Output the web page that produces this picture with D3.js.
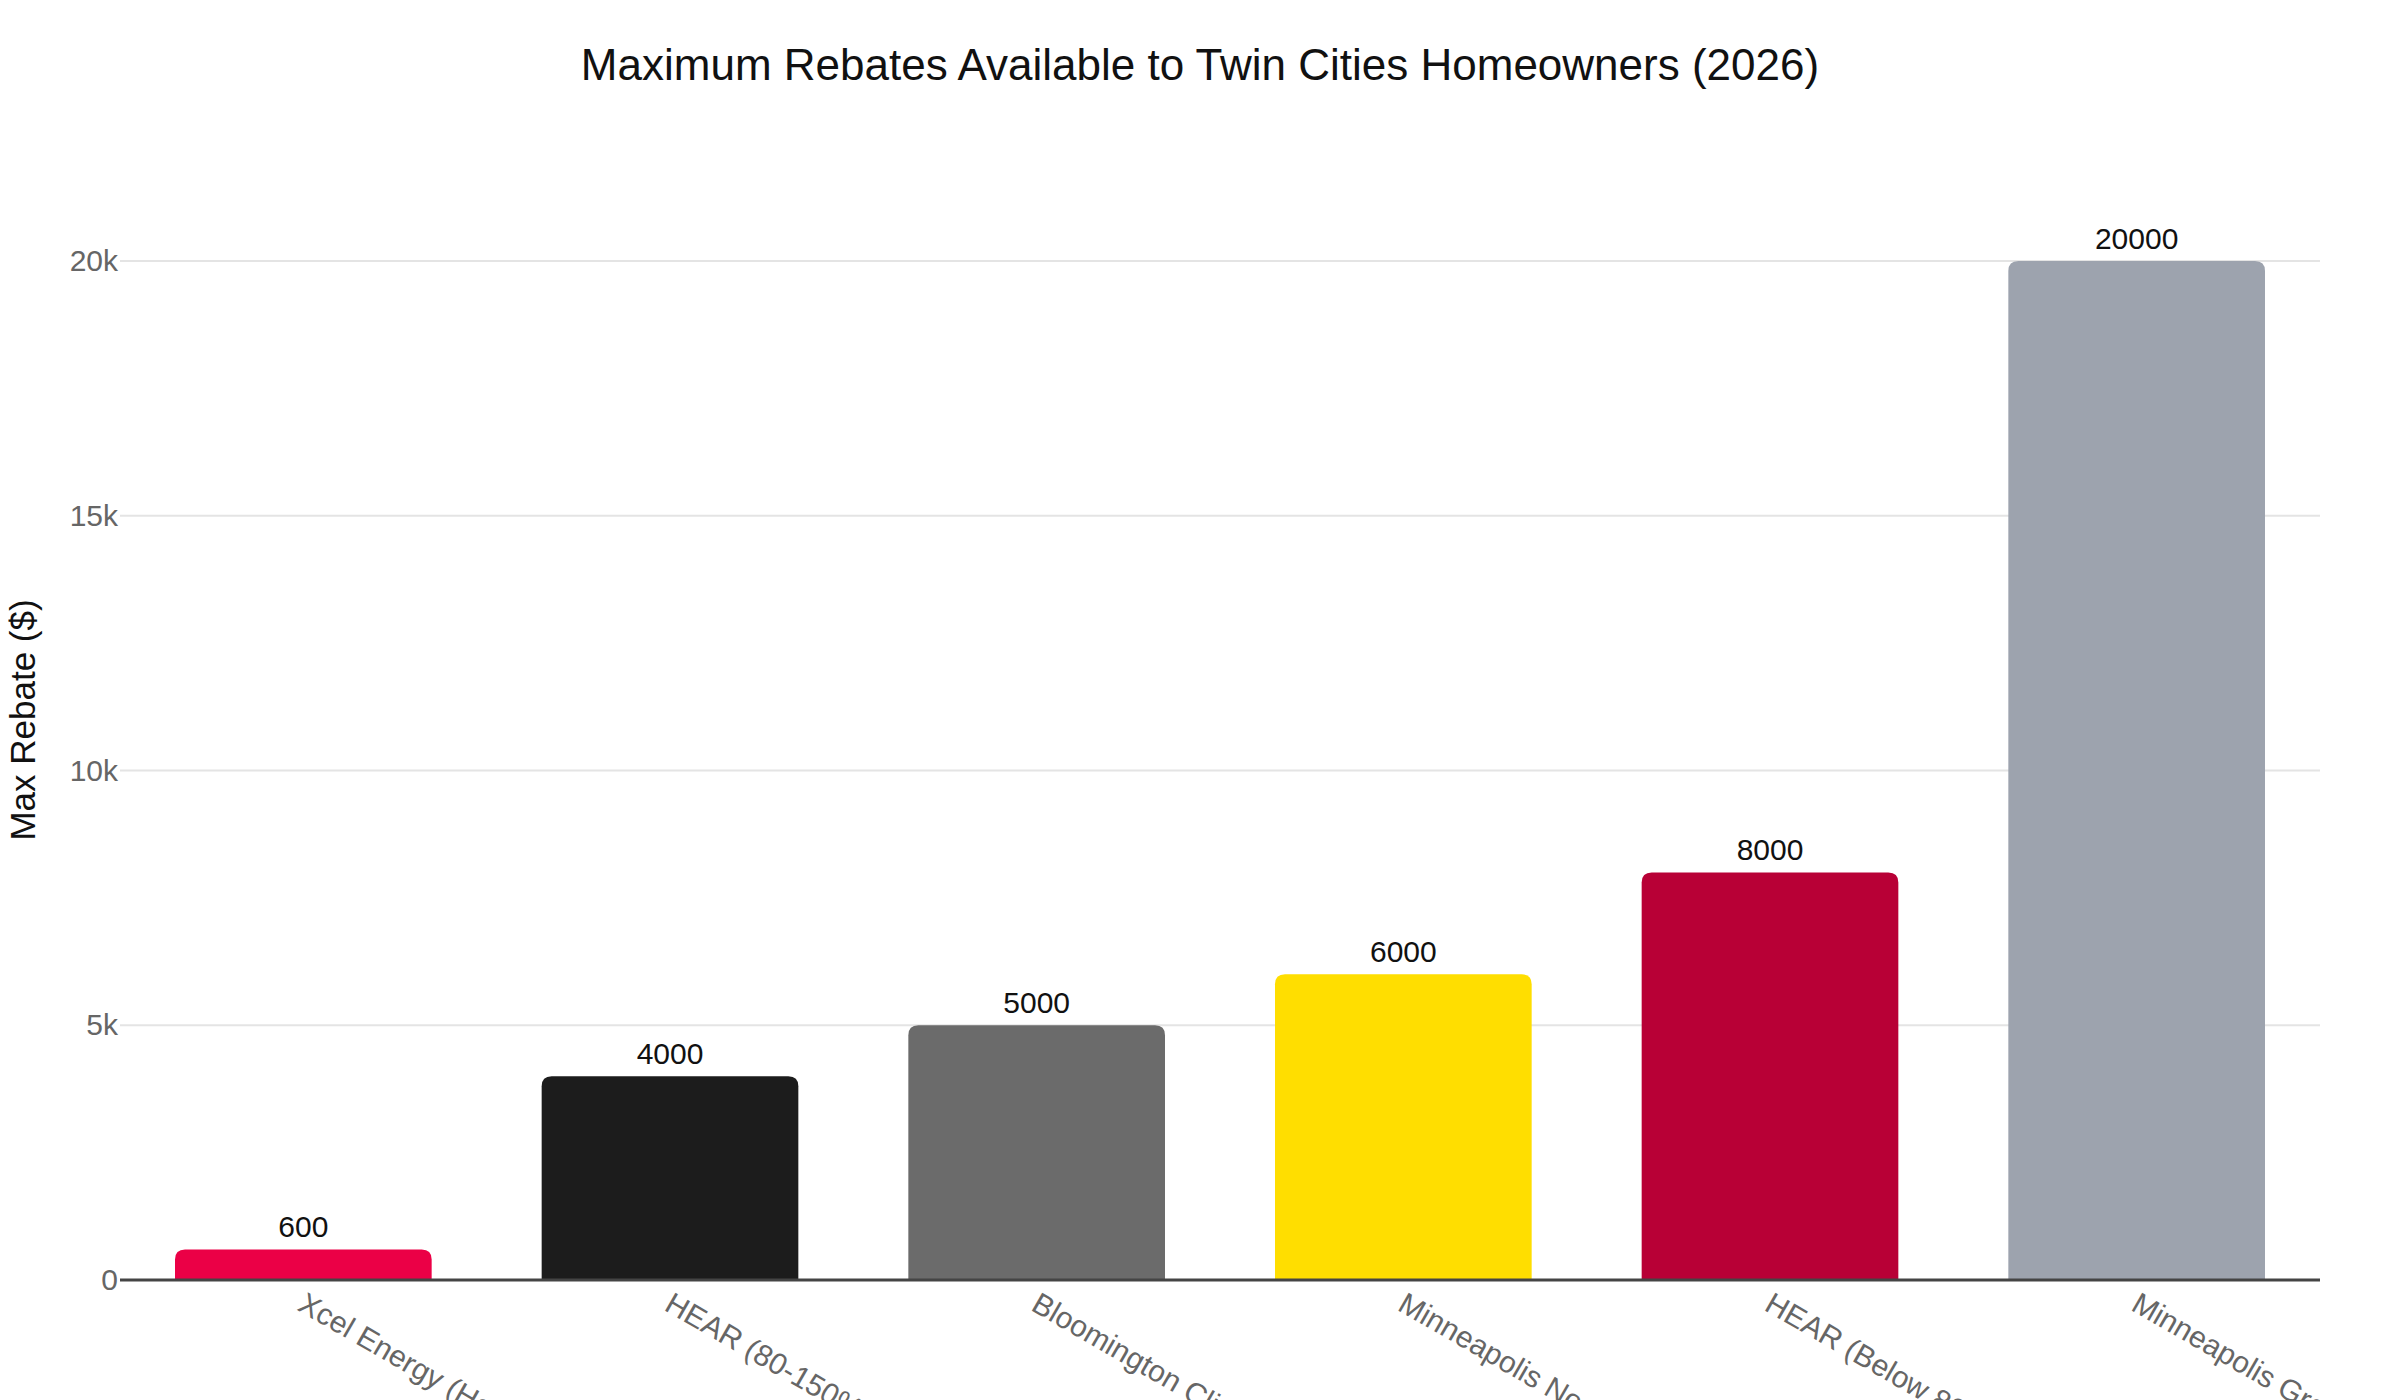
<!DOCTYPE html>
<html>
<head>
<meta charset="utf-8">
<script src="https://cdn.jsdelivr.net/npm/d3@7"></script>
<style>
    body { margin: 0; background: #fff; }
    text { font-family: "Liberation Sans", Arial, Helvetica, sans-serif; }
    .grid line { stroke: #e4e4e4; stroke-width: 2px; }
    .tickLabel { fill: #666; font-size: 30px; }
    .barLabel { fill: #111; font-size: 30px; }
</style>
</head>
<body>
<svg id="chart-svg"></svg>
<script>
// programs and their max rebate
const programs = [
    'Xcel Energy (Home Energy Squad)',
    'HEAR (80-150% AMI)',
    'Bloomington Climate Action Rebate',
    'Minneapolis Northside Home Fund',
    'HEAR (Below 80% AMI)',
    'Minneapolis Green Cost Share'
];
const maxRebates = [600, 4000, 5000, 6000, 8000, 20000];
const barColors = ['#eb0046', '#1c1c1c', '#6b6b6b', '#ffde00', '#b80036', '#9da3ae'];
const yTicks = [0, 5000, 10000, 15000, 20000];

const chartTitle = 'Maximum Rebates Available to Twin Cities Homeowners (2026)';
const yTitle = 'Max Rebate ($)';

let width = 2400, height = 1400;
let margin = {top: 210, right: 80, bottom: 120, left: 120};

window.addEventListener('load', function() {
    console.log("window loaded.");
    drawChart();
});

/**
 * Rounded-top bar path
 */
function barPath(x, y, w, h, r)
{
    r = Math.min(r, h, w/2);
    return `M ${x} ${y+h} V ${y+r} Q ${x} ${y} ${x+r} ${y} H ${x+w-r} Q ${x+w} ${y} ${x+w} ${y+r} V ${y+h} Z`;
}

function drawChart()
{
    const svg = d3.select('#chart-svg')
        .attr('width', width)
        .attr('height', height);

    const x = d3.scaleBand()
        .domain(programs)
        .range([margin.left, width - margin.right])
        .paddingInner(0.3)
        .paddingOuter(0.15);
    const y = d3.scaleLinear()
        .domain([0, 21000])
        .range([height - margin.bottom, margin.top]);

    // title
    svg.append('text')
        .attr('x', 1200)
        .attr('y', 80)
        .attr('text-anchor', 'middle')
        .style('font-size', '44px')
        .style('fill', '#111')
        .text(chartTitle);

    // gridlines
    const gridG = svg.append('g').classed('grid', true);
    gridG.selectAll('line')
        .data(yTicks.filter(d => d > 0))
        .join('line')
            .attr('x1', margin.left)
            .attr('x2', width - margin.right)
            .attr('y1', d => y(d))
            .attr('y2', d => y(d));

    // y axis
    const yAxis = d3.axisLeft(y)
        .tickValues(yTicks)
        .tickSize(0)
        .tickPadding(2)
        .tickFormat(d3.format('~s'));
    const yG = svg.append('g')
        .attr('transform', `translate(${margin.left},0)`)
        .call(yAxis);
    yG.select('.domain').remove();
    yG.selectAll('text')
        .classed('tickLabel', true)
        .attr('font-family', null)
        .attr('font-size', null)
        .attr('fill', null);

    svg.append('text')
        .attr('transform', `translate(35,720) rotate(-90)`)
        .attr('text-anchor', 'middle')
        .style('font-size', '35px')
        .style('fill', '#111')
        .text(yTitle);

    // bars
    const bars = programs.map((p, i) => ({name: p, value: maxRebates[i], color: barColors[i]}));
    svg.append('g').selectAll('path')
        .data(bars)
        .join('path')
            .attr('d', d => barPath(x(d.name), y(d.value), x.bandwidth(), y(0) - y(d.value), 10))
            .style('fill', d => d.color);

    svg.append('g').selectAll('text')
        .data(bars)
        .join('text')
            .classed('barLabel', true)
            .attr('x', d => x(d.name) + x.bandwidth()/2)
            .attr('y', d => y(d.value) - 12)
            .attr('text-anchor', 'middle')
            .text(d => d.value);

    // x axis
    const xAxis = d3.axisBottom(x).tickSize(0).tickFormat('');
    const xG = svg.append('g')
        .attr('transform', `translate(0,${y(0)})`)
        .call(xAxis);
    xG.select('.domain')
        .attr('d', `M ${margin.left} 0 H ${width - margin.right}`)
        .style('stroke', '#444')
        .style('stroke-width', '3px');

    // rotated category labels, clipped by the page bottom like the original
    svg.append('g').selectAll('text')
        .data(programs)
        .join('text')
            .classed('tickLabel', true)
            .attr('transform', d => `translate(${x(d) + x.bandwidth()/2 + 10},${y(0) + 8}) rotate(30)`)
            .attr('x', -4)
            .attr('y', 27)
            .text(d => d);
}
</script>
</body>
</html>
